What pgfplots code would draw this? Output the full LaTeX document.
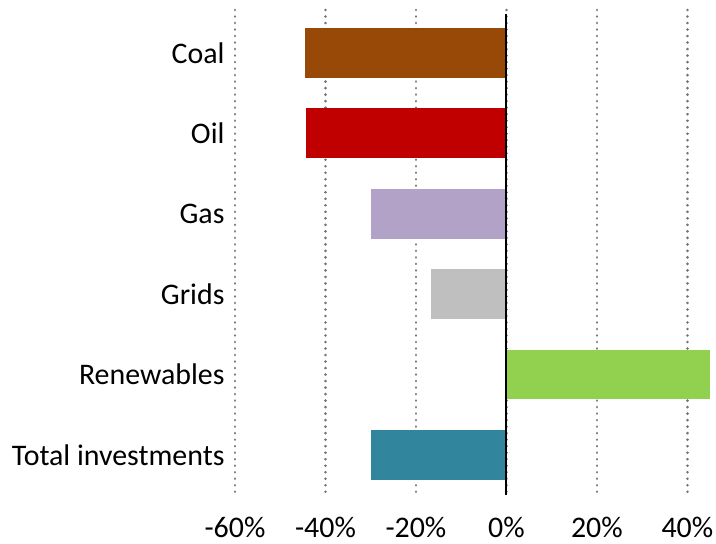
\documentclass[border=0pt]{standalone}
\usepackage{pgfplots}
\pgfplotsset{compat=1.18}
\usepackage{fontspec}
\setmainfont{Carlito}
\definecolor{coal}{HTML}{984807}
\definecolor{oil}{HTML}{C00000}
\definecolor{gas}{HTML}{B3A2C7}
\definecolor{grids}{HTML}{BFBFBF}
\definecolor{ren}{HTML}{92D050}
\definecolor{tot}{HTML}{31859C}
\begin{document}
\begin{tikzpicture}
\begin{axis}[
  at={(0,0)}, anchor=south west,
  scale only axis, width=475bp, height=485bp,
  xmin=-60, xmax=45, ymin=-0.535, ymax=5.5,
  y dir=reverse,
  xbar, bar width=0.62, bar shift=0pt,
  xtick={-60,-40,-20,0,20,40},
  xticklabel={\pgfmathprintnumber{\tick}\%},
  /pgf/number format/assume math mode=true,
  ytick={0,1,2,3,4,5},
  yticklabels={Coal,Oil,Gas,Grids,Renewables,Total investments},
  major tick length=0pt,
  axis line style={draw=none},
  xmajorgrids,
  grid style={black!55, line width=2.8bp, dash pattern=on 0.01bp off 6.5bp, line cap=round},
  tick label style={font=\fontsize{30}{34}\selectfont},
  xticklabel style={yshift=-19bp},
  yticklabel style={xshift=-7bp},
  clip=false,
]
\addplot[fill=coal, draw=none] coordinates {(-44.5,0)};
\addplot[fill=oil, draw=none] coordinates {(-44.2,1)};
\addplot[fill=gas, draw=none] coordinates {(-29.9,2)};
\addplot[fill=grids, draw=none] coordinates {(-16.6,3)};
\addplot[fill=ren, draw=none] coordinates {(45,4)};
\addplot[fill=tot, draw=none] coordinates {(-29.9,5)};
\draw[black, line width=2bp] (axis cs:0,-0.48) -- (axis cs:0,5.5);
\end{axis}
\pgfresetboundingbox
\path (-235bp,-49bp) rectangle (481bp,495bp);
\end{tikzpicture}
\end{document}
